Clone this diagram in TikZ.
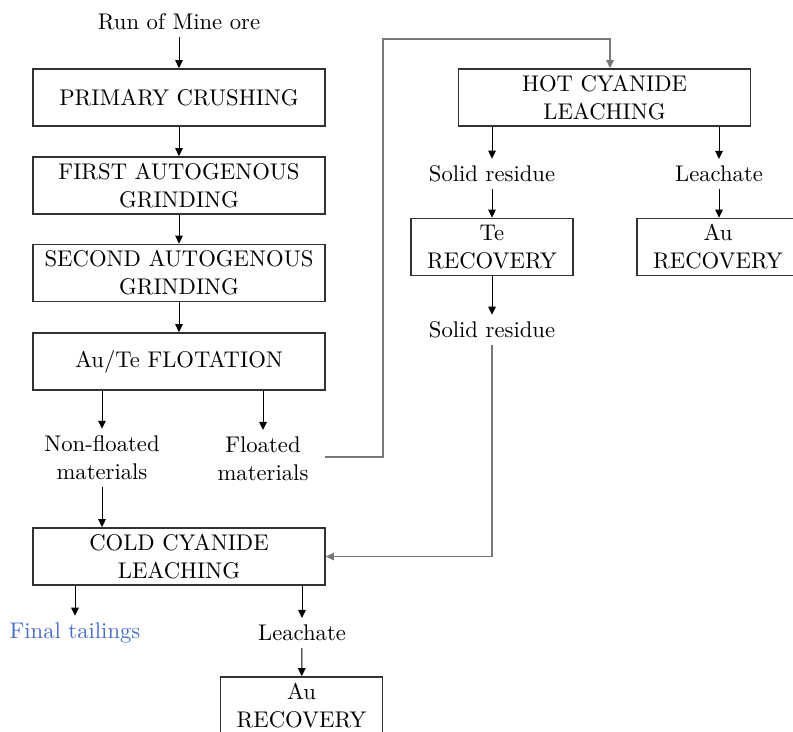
\documentclass[tikz,border=0pt]{standalone}
\usetikzlibrary{arrows.meta}
\definecolor{tailblue}{RGB}{72,110,200}
\definecolor{boxline}{RGB}{50,50,50}
\definecolor{conngray}{RGB}{120,120,120}
\begin{document}
\begin{tikzpicture}[x=0.45pt,y=-0.45pt,
  every node/.style={font=\fontsize{10.2}{12.6}\selectfont},
  procbox/.style={draw=boxline,line width=0.8pt,minimum width=131.4pt,minimum height=25.65pt,align=center,inner sep=1pt},
  smallbox/.style={procbox,minimum width=72.9pt},
  lbl/.style={align=center,inner sep=3pt},
  arr/.style={-{Triangle[length=3.6pt,width=3.4pt]},line width=0.45pt,black},
  garr/.style={-{Triangle[length=3.6pt,width=3.4pt]},line width=0.5pt,conngray}]
\useasboundingbox (0,0) rectangle (793,731);
% left column
\node[lbl] (rom) at (179,22) {Run of Mine ore};
\node[procbox] (prim) at (179,97.5) {PRIMARY CRUSHING};
\node[procbox] (first) at (179,185.5) {FIRST AUTOGENOUS\\GRINDING};
\node[procbox] (second) at (179,273) {SECOND AUTOGENOUS\\GRINDING};
\node[procbox] (flot) at (179,361.5) {Au/Te FLOTATION};
\node[lbl] (nonf) at (102,458) {Non-floated\\materials};
\node[lbl] (flt) at (263,459) {Floated\\materials};
\node[procbox] (cold) at (179,556.5) {COLD CYANIDE\\LEACHING};
\node[lbl,text=tailblue] (tail) at (75,633) {Final tailings};
\node[lbl] (leach1) at (302,633) {Leachate};
\node[smallbox] (au1) at (301.5,705.5) {Au\\RECOVERY};
% right column
\node[procbox] (hot) at (604.5,97.5) {HOT CYANIDE\\LEACHING};
\node[lbl] (sr1) at (492,174) {Solid residue};
\node[lbl] (lea2) at (719,174) {Leachate};
\node[smallbox] (te) at (492,247) {Te\\RECOVERY};
\node[smallbox] (au2) at (718,247) {Au\\RECOVERY};
\node[lbl] (sr2) at (492,330) {Solid residue};
% coordinates for routed connectors
\coordinate (fstart) at (325,457);
\coordinate (turn) at (383,39);
\coordinate (hx) at (610,39);
% arrows
\draw[arr] (rom) -- (prim);
\draw[arr] (prim) -- (first);
\draw[arr] (first) -- (second);
\draw[arr] (second) -- (flot);
\draw[arr] (flot.south -| nonf) -- (nonf);
\draw[arr] (flot.south -| flt) -- (flt);
\draw[arr] (nonf) -- (cold.north -| nonf);
\draw[arr] (cold.south -| tail) -- (tail);
\draw[arr] (cold.south -| leach1) -- (leach1);
\draw[arr] (leach1) -- (au1);
\draw[arr] (hot.south -| sr1) -- (sr1);
\draw[arr] (hot.south -| lea2) -- (lea2);
\draw[arr] (sr1) -- (te);
\draw[arr] (lea2) -- (au2.north -| lea2);
\draw[arr] (te) -- (sr2);
\draw[garr] (fstart) -| (turn) -- (hx) -- (hot.north -| hx);
\draw[garr] (sr2) |- (cold.east);
\end{tikzpicture}
\end{document}
